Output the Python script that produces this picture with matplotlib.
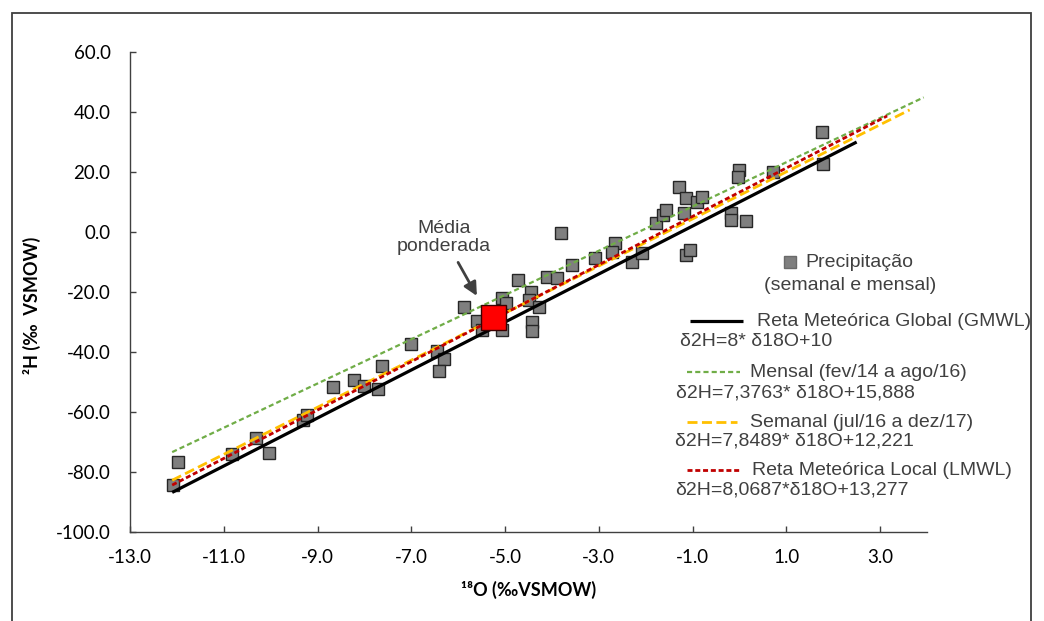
import matplotlib.pyplot as plt
from matplotlib.patches import Rectangle
from matplotlib.ticker import FuncFormatter
import numpy as np

# amostras de precipitação (semanal e mensal)
d18O = [-12.08, -11.97, -10.82, -10.32, -10.04, -9.30, -9.23, -8.68, -8.23, -8.00,
        -7.70, -7.62, -7.00, -6.46, -6.31, -6.40, -5.88, -5.60, -5.49, -5.06,
        -4.98, -5.07, -4.72, -4.44, -4.49, -4.28, -4.42, -4.42, -4.10, -3.89,
        -3.80, -3.57, -3.09, -2.65, -2.72, -2.29, -2.08, -1.78, -1.62, -1.56,
        -1.28, -1.14, -1.19, -0.91, -0.80, -1.14, -1.05, -0.02, -0.04, -0.17,
        -0.19, 0.14, 0.72, 1.77, 1.79]
d2H = [-84.3, -76.8, -74.0, -68.8, -73.8, -62.8, -61.0, -51.6, -49.3, -51.3,
       -52.4, -44.5, -37.4, -39.6, -42.2, -46.2, -25.1, -29.8, -32.7, -22.1,
       -23.5, -32.7, -16.0, -19.9, -22.7, -24.9, -29.9, -32.9, -14.9, -15.4,
       -0.4, -11.0, -8.6, -3.8, -6.6, -9.9, -7.1, 3.1, 5.7, 7.3,
       15.1, 11.4, 6.2, 10.1, 11.8, -7.7, -6.0, 20.7, 18.4, 6.4,
       4.0, 3.8, 20.1, 33.2, 22.6]

media_18O = -5.25
media_2H = -28.3

reta_nomes = ["Reta Meteórica Global (GMWL)", "Mensal (fev/14 a ago/16)",
              "Semanal (jul/16 a dez/17)", "Reta Meteórica Local (LMWL)"]
reta_eqs = ["δ2H=8* δ18O+10", "δ2H=7,3763* δ18O+15,888",
            "δ2H=7,8489* δ18O+12,221", "δ2H=8,0687*δ18O+13,277"]
reta_a = [8.0, 7.3763, 7.8489, 8.0687]
reta_b = [10.0, 15.888, 12.221, 13.277]
reta_xmin = [-12.1, -12.1, -12.1, -12.1]
reta_xmax = [2.5, 3.93, 3.63, 3.15]

xticks = [-13, -11, -9, -7, -5, -3, -1, 1, 3]
yticks = [-100, -80, -60, -40, -20, 0, 20, 40, 60]

estilos = [
    dict(color='black', lw=2.3, ls='-'),
    dict(color='#70AD47', lw=1.6, dashes=(2.3, 1.4)),
    dict(color='#FFC000', lw=2.0, dashes=(3.6, 1.6)),
    dict(color='#C00000', lw=2.0, dashes=(1.8, 1.0)),
]

txt = '#404040'
leg_font = 'Liberation Sans'

fig = plt.figure(figsize=(10.44, 6.21), dpi=100)
ax = fig.add_axes([0.1245, 0.1433, 0.7634, 0.7729])

ax.plot(d18O, d2H, 's', ms=8.5, mfc='#7F7F7F', mec='#262626', mew=1.0, zorder=2)

for a, b, x0, x1, st in zip(reta_a, reta_b, reta_xmin, reta_xmax, estilos):
    xx = np.array([x0, x1])
    ax.plot(xx, a * xx + b, zorder=3, solid_capstyle='butt', **st)

ax.plot([media_18O], [media_2H], 's', ms=18, mfc='#FF0000', mec='#3a0000', mew=1.0, zorder=5)

ax.annotate("Média\nponderada", xy=(-5.6, -21.3), xytext=(-6.3, -1.8),
            ha='center', va='center', fontsize=14, family=leg_font, color=txt,
            linespacing=1.05,
            arrowprops=dict(arrowstyle='-|>', color='#404040', lw=2.0,
                            mutation_scale=20, shrinkA=4, shrinkB=0))

ax.set_xlim(-13, 4)
ax.set_ylim(-100, 60)
ax.set_xticks(xticks)
ax.set_yticks(yticks)
fmt = FuncFormatter(lambda v, p: f"{v:.1f}")
ax.xaxis.set_major_formatter(fmt)
ax.yaxis.set_major_formatter(fmt)

for s in ['top', 'right']:
    ax.spines[s].set_visible(False)
for s in ['left', 'bottom']:
    ax.spines[s].set_color('#404040')
    ax.spines[s].set_linewidth(1.0)

ax.tick_params(axis='both', direction='in', length=4.5, width=1.0, color='#404040',
               labelsize=13.5, labelcolor='black')
ax.tick_params(axis='x', pad=12)
ax.tick_params(axis='y', pad=14)
for lab in ax.get_xticklabels() + ax.get_yticklabels():
    lab.set_family('Lato')

ax.text(-0.123, 0.473, "²H (‰  VSMOW)", transform=ax.transAxes, rotation=90,
        ha='center', va='center', fontsize=13, fontweight='bold',
        family=['Lato', 'DejaVu Sans'])
ax.text(0.5, -0.121, "¹⁸O (‰VSMOW)", transform=ax.transAxes,
        ha='center', va='center', fontsize=13, fontweight='bold',
        family=['Lato', 'DejaVu Sans'])

# legenda desenhada à mão, com a equação embaixo de cada reta
tr = ax.transAxes
ax.plot([0.828], [0.5625], 's', ms=8.5, mfc='#7F7F7F', mec='#6a6a6a',
        transform=tr, clip_on=False)
ax.text(0.847, 0.5625, "Precipitação", transform=tr, ha='left', va='center',
        fontsize=14, family=leg_font, color=txt)
ax.text(0.903, 0.5146, "(semanal e mensal)", transform=tr, ha='center', va='center',
        fontsize=14, family=leg_font, color=txt)

h_y = [0.4396, 0.333, 0.229, 0.129]
h_x0 = [0.7026, 0.699, 0.699, 0.699]
h_x1 = [0.769, 0.765, 0.762, 0.765]
t_x = [0.787, 0.778, 0.778, 0.780]
e_x = [0.690, 0.685, 0.684, 0.684]
e_y = [0.396, 0.2896, 0.190, 0.0875]

for i, st in enumerate(estilos):
    ax.plot([h_x0[i], h_x1[i]], [h_y[i], h_y[i]], transform=tr, clip_on=False,
            solid_capstyle='butt', **st)
    ax.text(t_x[i], h_y[i], reta_nomes[i], transform=tr, ha='left', va='center',
            fontsize=14, family=leg_font, color=txt)
    ax.text(e_x[i], e_y[i], reta_eqs[i], transform=tr, ha='left', va='center',
            fontsize=14, family=leg_font, color=txt)

# moldura externa
fig.add_artist(Rectangle((0.0115, -0.02), 0.976, 0.999, transform=fig.transFigure,
                         fill=False, edgecolor='#3f3f3f', lw=1.3))

fig.savefig('out.png', dpi=100)
